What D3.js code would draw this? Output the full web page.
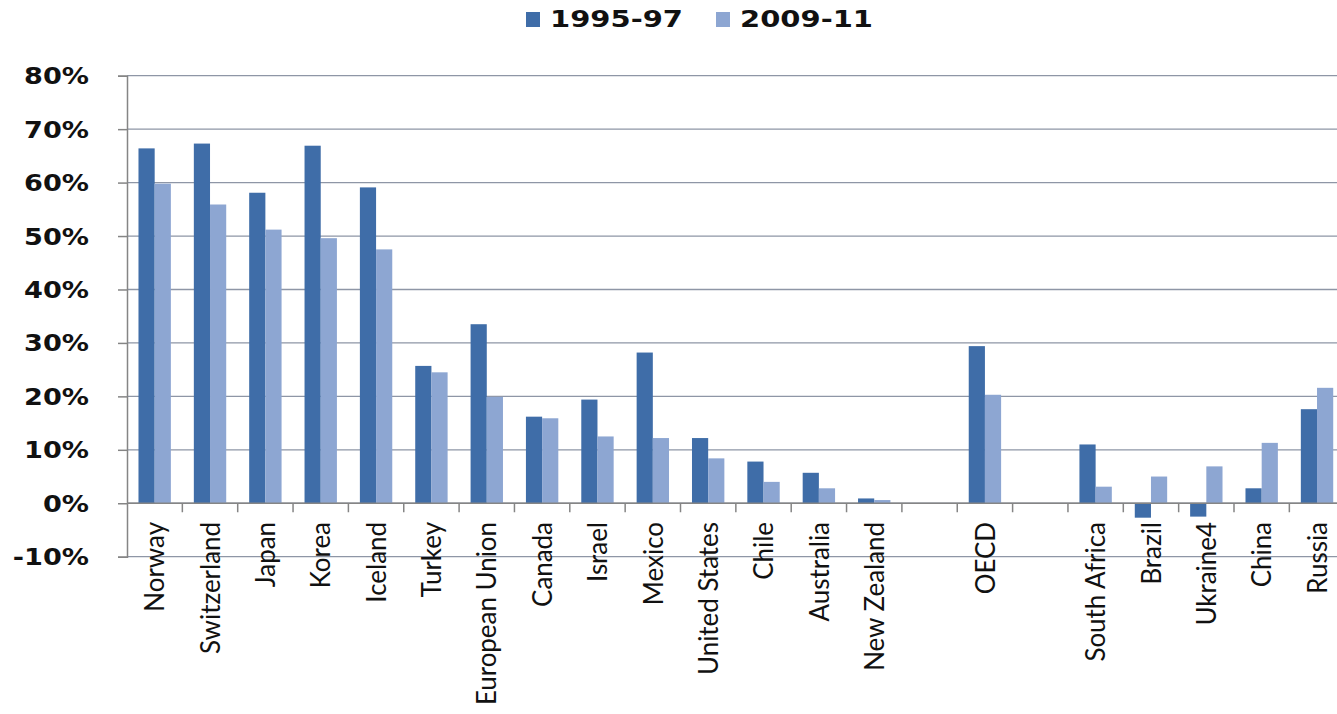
<!DOCTYPE html>
<html>
<head>
<meta charset="utf-8">
<script src="https://cdn.jsdelivr.net/npm/d3@7"></script>
<style>
  body { margin: 0; background: #fff; }
  svg { display: block; }
</style>
</head>
<body>
<div id="chart"></div>
<script>
const width = 1337;
const height = 714;

// categories, blank strings are the gaps in the chart
const categories = ["Norway", "Switzerland", "Japan", "Korea", "Iceland", "Turkey",
	"European Union", "Canada", "Israel", "Mexico", "United States", "Chile",
	"Australia", "New Zealand", "", "OECD", "", "South Africa", "Brazil",
	"Ukraine4", "China", "Russia"];
const series = ["1995-97", "2009-11"];
const values1995 = [66.4, 67.3, 58.1, 66.9, 59.1, 25.7, 33.5, 16.2, 19.4, 28.2, 12.2, 7.8,
	5.7, 0.9, null, 29.4, null, 11.0, -2.7, -2.5, 2.8, 17.6];
const values2009 = [59.8, 55.9, 51.2, 49.6, 47.5, 24.5, 19.9, 15.9, 12.5, 12.2, 8.4, 4.0,
	2.8, 0.6, null, 20.3, null, 3.1, 5.0, 6.9, 11.3, 21.6];
const yTicks = [-10, 0, 10, 20, 30, 40, 50, 60, 70, 80];

const colors = ["#3f6da8", "#8da6d2"];
const gridColor = "#8e96a6";
const axisColor = "#858585";

const svg = d3.select("#chart")
	.append("svg")
	.attr("width", width)
	.attr("height", height);

const left = 127;
const step = 55.35;
const idx = categories.map((d, i) => i);

const x0 = d3.scaleBand()
	.domain(idx)
	.range([left, left + step * categories.length])
	.paddingInner(0.415)
	.paddingOuter(0.2075);

const x1 = d3.scaleBand()
	.domain(series)
	.range([0, x0.bandwidth()]);

const y = d3.scaleLinear()
	.domain([-10, 80])
	.range([556.7, 75.7]);

// gridlines
svg.append("g")
	.selectAll("line")
	.data(yTicks)
	.enter()
	.append("line")
	.attr("x1", left)
	.attr("x2", width)
	.attr("y1", d => y(d))
	.attr("y2", d => y(d))
	.attr("stroke", gridColor)
	.attr("stroke-width", 1.3);

// bars
const rows = idx.filter(i => values1995[i] !== null).map(i => ({
	i: i,
	vals: [values1995[i], values2009[i]]
}));

svg.append("g")
	.selectAll("g")
	.data(rows)
	.enter()
	.append("g")
	.attr("transform", d => `translate(${x0(d.i)},0)`)
	.selectAll("rect")
	.data(d => d.vals.map((v, k) => ({key: series[k], v: v, k: k})))
	.enter()
	.append("rect")
	.attr("x", d => x1(d.key))
	.attr("width", x1.bandwidth())
	.attr("y", d => y(Math.max(0, d.v)))
	.attr("height", d => Math.abs(y(d.v) - y(0)))
	.attr("fill", d => colors[d.k]);

// x axis line at zero with ticks on the category borders
svg.append("line")
	.attr("x1", left)
	.attr("x2", width)
	.attr("y1", y(0))
	.attr("y2", y(0))
	.attr("stroke", axisColor)
	.attr("stroke-width", 1.5);

svg.append("g")
	.selectAll("line")
	.data(d3.range(1, categories.length + 1))
	.enter()
	.append("line")
	.attr("x1", d => left + d * step)
	.attr("x2", d => left + d * step)
	.attr("y1", y(0))
	.attr("y2", y(0) + 9)
	.attr("stroke", axisColor)
	.attr("stroke-width", 1.5);

// y axis
const yAxis = svg.append("g")
	.attr("transform", `translate(${left},0)`)
	.call(d3.axisLeft(y).tickValues(yTicks).tickSize(9).tickFormat(d => d + "%"));
yAxis.select(".domain").attr("stroke", axisColor).attr("stroke-width", 1.5);
yAxis.selectAll(".tick line").attr("stroke", axisColor).attr("stroke-width", 1.5);
yAxis.selectAll(".tick text")
	.attr("x", null)
	.attr("dy", null)
	.attr("transform", `translate(-38,8) scale(1.18,1)`)
	.attr("text-anchor", "end")
	.style("font-family", "'DejaVu Sans', Verdana, sans-serif")
	.style("font-weight", "bold")
	.style("font-size", "23px")
	.attr("fill", "#111");

// category labels
svg.append("g")
	.selectAll("text")
	.data(idx.filter(i => categories[i] !== ""))
	.enter()
	.append("text")
	.attr("transform", d => `translate(${left + (d + 0.5) * step},522) rotate(-90) scale(0.96,1)`)
	.attr("dy", "0.36em")
	.attr("text-anchor", "end")
	.style("font-family", "Lato, sans-serif")
	.style("font-size", "27px")
	.attr("fill", "#111")
	.text(d => categories[d]);

// legend
const legend = svg.append("g");
let lx = 526;
series.forEach((s, k) => {
	legend.append("rect")
		.attr("x", lx)
		.attr("y", 12)
		.attr("width", 14)
		.attr("height", 15)
		.attr("fill", colors[k]);
	const t = legend.append("text")
		.attr("transform", `translate(${lx + 24},27) scale(1.26,1)`)
		.style("font-family", "'DejaVu Sans', Verdana, sans-serif")
		.style("font-weight", "bold")
		.style("font-size", "23px")
		.attr("fill", "#111")
		.text(s);
	lx += 24 + t.node().getComputedTextLength() * 1.26 + 33;
});
</script>
</body>
</html>
